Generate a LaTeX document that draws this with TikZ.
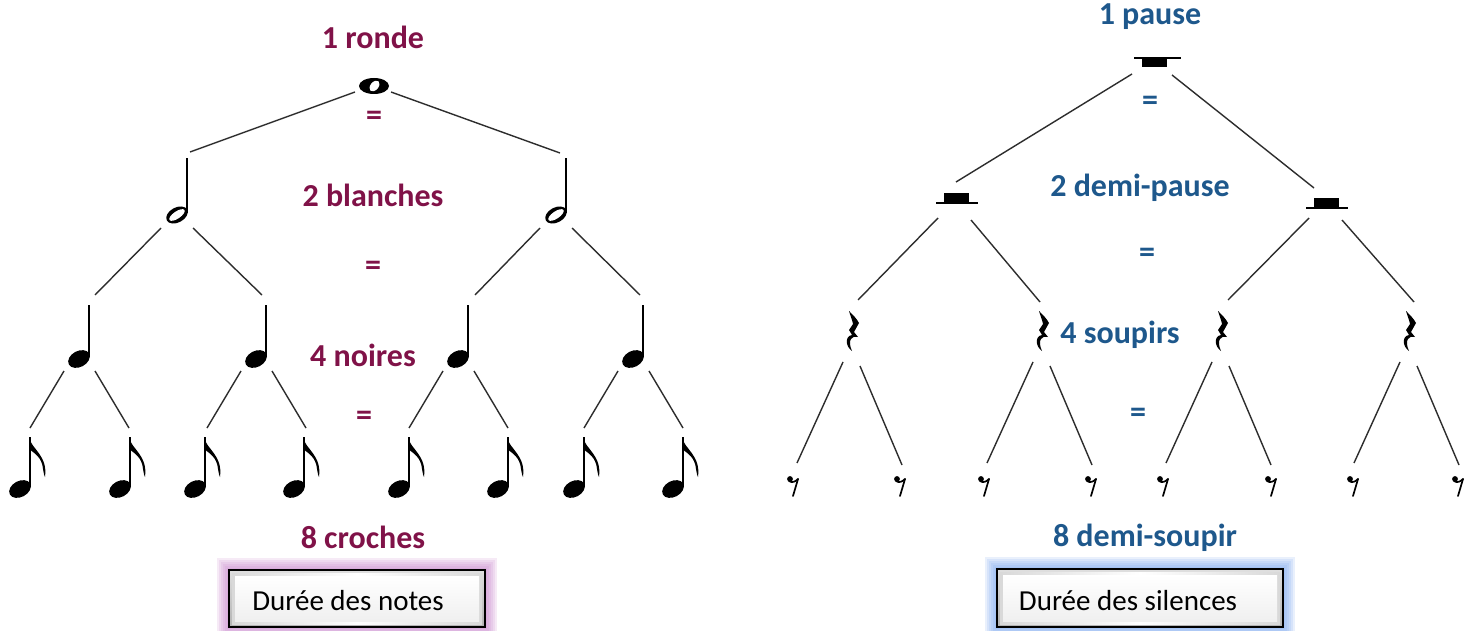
\documentclass[tikz,border=0pt]{standalone}
\usepackage{fontspec}
\setmainfont{Carlito}
\definecolor{maroon}{RGB}{128,18,72}
\definecolor{rblue}{RGB}{30,88,140}
\definecolor{lnc}{RGB}{45,45,45}
\definecolor{glowpink}{RGB}{200,130,205}
\definecolor{glowblue}{RGB}{120,165,240}
\tikzset{
  lbl/.style={font=\fontsize{32}{36}\selectfont\bfseries, inner sep=0pt},
  ml/.style={lbl, text=maroon},
  bl/.style={lbl, text=rblue},
  conn/.style={draw=lnc, line width=1.4pt},
  wholenote/.pic={
    \fill[black] (0,0) ellipse [x radius=15pt, y radius=8pt];
    \fill[white] (0.5,0) ellipse [x radius=4pt, y radius=6.2pt, rotate=-40];
  },
  halfnote/.pic={
    \fill[black] (-10,2) ellipse [x radius=11.5pt, y radius=7.5pt, rotate=28];
    \fill[white] (-10,2) ellipse [x radius=9pt, y radius=3.6pt, rotate=34];
    \draw[black, line width=2pt] (0,0) -- (0,-55);
  },
  quarternote/.pic={
    \fill[black] (-10,2) ellipse [x radius=11.5pt, y radius=8pt, rotate=28];
    \draw[black, line width=2.2pt] (0,0) -- (0,-52);
  },
  eighthnote/.pic={
    \fill[black] (-10,2) ellipse [x radius=11.5pt, y radius=8pt, rotate=28];
    \draw[black, line width=2.2pt] (0,0) -- (0,-50);
    \fill[black] (-1,-50) .. controls (1,-38) and (18,-32) .. (15,-10)
       .. controls (13,-14) and (14,-16) .. (13,-18)
       .. controls (12,-30) and (4,-34) .. (-1,-38) -- cycle;
  },
  wrest/.pic={
    \draw[black, line width=1.5pt] (-23,0) -- (24,0);
    \fill[black] (-15,0) rectangle (10,9);
  },
  hrest/.pic={
    \draw[black, line width=1.5pt] (-21,0) -- (21,0);
    \fill[black] (-13,0) rectangle (12,-10);
  },
  qrest/.pic={
    \fill[black] (-4,-21) .. controls (0,-17) and (4,-13) .. (6,-9)
      -- (1,0) -- (5,5)
      .. controls (-1,3) and (-6,8) .. (-1,19)
      .. controls (-8,14) and (-8,4) .. (-1,3)
      -- (-4,-2) -- (0,-8) .. controls (-1,-13) and (-3,-17) .. (-4,-21) -- cycle;
  },
  erest/.pic={
    \fill[black] (-3,-7) circle (2.9pt);
    \draw[black, line width=1.7pt, line cap=round] (-4,-5) .. controls (-1,-3) and (2,-4) .. (5,-7);
    \draw[black, line width=1.7pt, line cap=round] (5,-7) -- (0,10);
  },
}
\begin{document}
\begin{tikzpicture}[x=1pt,y=-1pt]
\useasboundingbox (0,0) rectangle (1480,631);
\fill[white] (0,0) rectangle (1480,631);

% ===== LEFT TREE: notes =====
\node[ml] (t1) at (373,37) {1 ronde};
\node[ml] (e1) at (374,118) {=};
\node[ml] (t2) at (373,195) {2 blanches};
\node[ml] (e2) at (373,268) {=};
\node[ml] (t3) at (363,355) {4 noires};
\node[ml] (e3) at (364,418) {=};
\node[ml] (t4) at (363,537) {8 croches};

\pic at (374,86) {wholenote};
\pic at (187,213) {halfnote};
\pic at (566,213) {halfnote};
\foreach \s in {89,266,468,643} \pic at (\s,357) {quarternote};
\foreach \s in {30,130,205,304,409,508,584,683} \pic at (\s,487) {eighthnote};

% connector end points
\coordinate (w-l) at (355,92); \coordinate (w-r) at (391,92);
\coordinate (h1-t) at (190,152); \coordinate (h2-t) at (560,153);
\draw[conn] (w-l) -- (h1-t);
\draw[conn] (w-r) -- (h2-t);
\foreach \h/\a/\b in {178/95/262, 557/475/640}{
  \coordinate (hl) at (\h-17,228); \coordinate (hr) at (\h+15,228);
  \coordinate (qa) at (\a,295); \coordinate (qb) at (\b,295);
  \draw[conn] (hl) -- (qa);
  \draw[conn] (hr) -- (qb);
}
\foreach \s in {89,266,468,643}{
  \coordinate (ql) at (\s-25,371); \coordinate (qr) at (\s+6,371);
  \coordinate (ea) at (\s-59,428); \coordinate (eb) at (\s+40,428);
  \draw[conn] (ql) -- (ea);
  \draw[conn] (qr) -- (eb);
}

% ===== RIGHT TREE: rests =====
\node[bl] (s1) at (1150,17) {1 pause};
\node[bl] (f1) at (1150,103) {=};
\node[bl] (s2) at (1140,188) {2 demi-pause};
\node[bl] (f2) at (1147,255) {=};
\node[bl] (s3) at (1120,335) {4 soupirs};
\node[bl] (f3) at (1138,415) {=};
\node[bl] (s4) at (1145,538) {8 demi-soupir};

\pic at (1157,58) {wrest};
\pic at (957,203) {hrest};
\pic at (1327,208) {hrest};
\foreach \c in {853,1043,1222,1410} \pic at (\c,332) {qrest};
\foreach \c in {793,900,984,1091,1163,1271,1353,1458} \pic at (\c,486) {erest};

\coordinate (p-l) at (1132,74); \coordinate (p-r) at (1172,75);
\coordinate (dp1-t) at (956,182); \coordinate (dp2-t) at (1314,188);
\draw[conn] (p-l) -- (dp1-t);
\draw[conn] (p-r) -- (dp2-t);
\foreach \d/\a/\b in {955/858/1040, 1326/1228/1414}{
  \coordinate (dl) at (\d-17,218); \coordinate (dr) at (\d+16,220);
  \coordinate (sa) at (\a,300); \coordinate (sb) at (\b,302);
  \draw[conn] (dl) -- (sa);
  \draw[conn] (dr) -- (sb);
}
\foreach \c in {853,1043,1222,1410}{
  \coordinate (sl) at (\c-10,362); \coordinate (sr) at (\c+7,366);
  \coordinate (da) at (\c-56,463); \coordinate (db) at (\c+49,465);
  \draw[conn] (sl) -- (da);
  \draw[conn] (sr) -- (db);
}

% ===== caption boxes =====
\foreach \x/\y/\X/\Y/\g in {229/570/485/627/glowpink, 997/569/1283/627/glowblue}{
  \foreach \k in {12,10,8,6,4,2}{
    \fill[\g, opacity=0.16] (\x-\k,\y-\k) rectangle (\X+\k,\Y+\k);
  }
  \shade[top color=gray!25, bottom color=gray!60] (\x,\y) rectangle (\X,\Y);
  \shade[left color=gray!30, right color=gray!30, middle color=white] (\x+3,\y+3) rectangle (\X-3,\Y-3);
  \shade[top color=white, bottom color=gray!12] (\x+6,\y+6) rectangle (\X-6,\Y-6);
  \draw[black, line width=1.6pt] (\x,\y) rectangle (\X,\Y);
}
\node[font=\fontsize{29}{33}\selectfont, inner sep=0pt] (b1) at (348,601) {Durée des notes};
\node[font=\fontsize{29}{33}\selectfont, inner sep=0pt] (b2) at (1128,601) {Durée des silences};
\end{tikzpicture}
\end{document}
